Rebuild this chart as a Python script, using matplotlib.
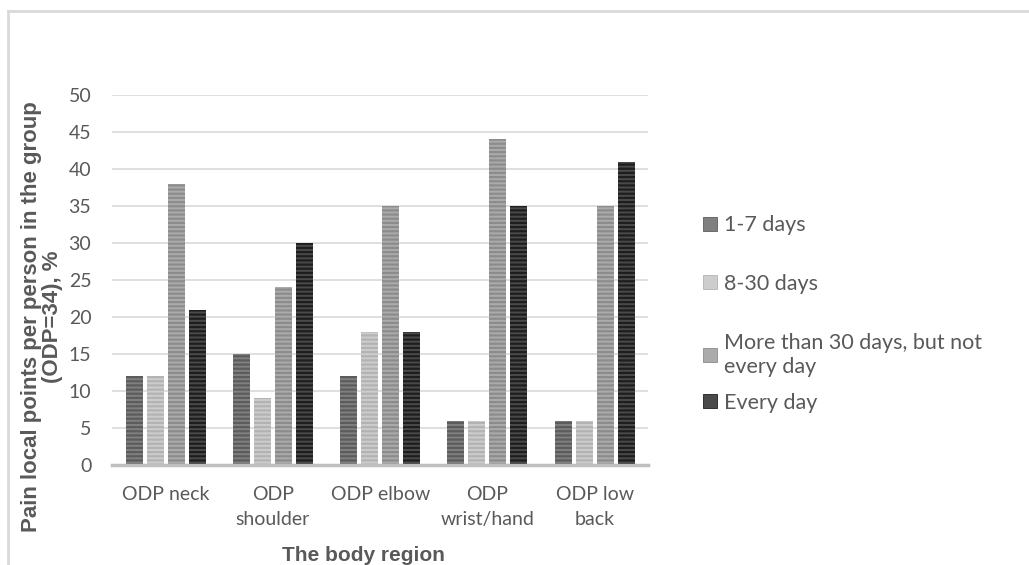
import matplotlib
matplotlib.use("Agg")
import matplotlib.pyplot as plt
import numpy as np
from matplotlib.lines import Line2D

categories = ["ODP neck", "ODP\nshoulder", "ODP elbow", "ODP\nwrist/hand", "ODP low\nback"]
series_names = ["1-7 days", "8-30 days", "More than 30 days, but not\nevery day", "Every day"]
days_1_7 = [12, 15, 12, 6, 6]
days_8_30 = [12, 9, 18, 6, 6]
more_than_30 = [38, 24, 35, 44, 35]
every_day = [21, 30, 18, 35, 41]
y_ticks = [0, 5, 10, 15, 20, 25, 30, 35, 40, 45, 50]

series_values = [days_1_7, days_8_30, more_than_30, every_day]
face_colors = ["#808080", "#cdcdcd", "#ababab", "#4a4a4a"]
stripe_colors = ["#5c5c5c", "#b3b3b3", "#8c8c8c", "#1e1e1e"]

plt.rcParams["font.family"] = ["Lato", "DejaVu Sans"]
plt.rcParams["hatch.linewidth"] = 1.6

fig = plt.figure(figsize=(10.29, 5.65), dpi=100)
ax = fig.add_axes([0.109, 0.177, 0.521, 0.655])

x = np.arange(len(categories))
step = 0.196
width = 0.158
for i, (vals, fc, sc) in enumerate(zip(series_values, face_colors, stripe_colors)):
    offs = (i - 1.5) * step
    ax.bar(x + offs, vals, width=width, facecolor=fc, edgecolor=sc,
           hatch="----", linewidth=0, zorder=3)

ax.set_xlim(-0.5, len(categories) - 0.5)
ax.set_ylim(0, 50)
ax.set_yticks(y_ticks)
ax.set_xticks(x)
ax.set_xticklabels(categories, linespacing=1.6)
ax.tick_params(axis="both", length=0, labelsize=14, colors="#595959")
ax.tick_params(axis="y", pad=15)
ax.tick_params(axis="x", pad=15)
ax.grid(axis="y", color="#d9d9d9", linewidth=1.2, zorder=0)
for side in ["top", "right", "left"]:
    ax.spines[side].set_visible(False)
ax.spines["bottom"].set_color("#bfbfbf")
ax.spines["bottom"].set_linewidth(2.5)
ax.spines["bottom"].set_zorder(4)

label_font = ["Liberation Sans", "DejaVu Sans"]
ax.set_ylabel("Pain local points per person in the group\n(ODP=34), %",
              fontsize=16, fontweight="bold", color="#595959",
              family=label_font, linespacing=1.0)
ax.yaxis.set_label_coords(-0.092, 0.40)
ax.set_xlabel("The body region", fontsize=15, fontweight="bold",
              color="#595959", family=label_font)
ax.xaxis.set_label_coords(0.468, -0.218)

handles = [Line2D([0], [0], marker="s", linestyle="none", markersize=10,
                  markerfacecolor=fc, markeredgecolor=sc, markeredgewidth=0.6)
           for fc, sc in zip(face_colors, stripe_colors)]
legend_kw = dict(loc="upper left", frameon=False, fontsize=15.5,
                 labelcolor="#595959", handlelength=0.7, handletextpad=0.3,
                 borderaxespad=0, borderpad=0)
leg_top = fig.legend(handles[:3], series_names[:3],
                     bbox_to_anchor=(0.683, 0.619), labelspacing=1.8,
                     **legend_kw)
for t in leg_top.get_texts():
    t.set_linespacing(1.25)
leg_bottom = fig.legend(handles[3:], series_names[3:],
                        bbox_to_anchor=(0.683, 0.305), **legend_kw)

# outer frame lines
fig.add_artist(Line2D([8 / 1029, 8 / 1029], [0, 1 - 11 / 565],
                      transform=fig.transFigure, color="#d9d9d9", linewidth=2))
fig.add_artist(Line2D([8 / 1029, 1], [1 - 11 / 565, 1 - 11 / 565],
                      transform=fig.transFigure, color="#d9d9d9", linewidth=2))

fig.savefig("out.png", dpi=100)
